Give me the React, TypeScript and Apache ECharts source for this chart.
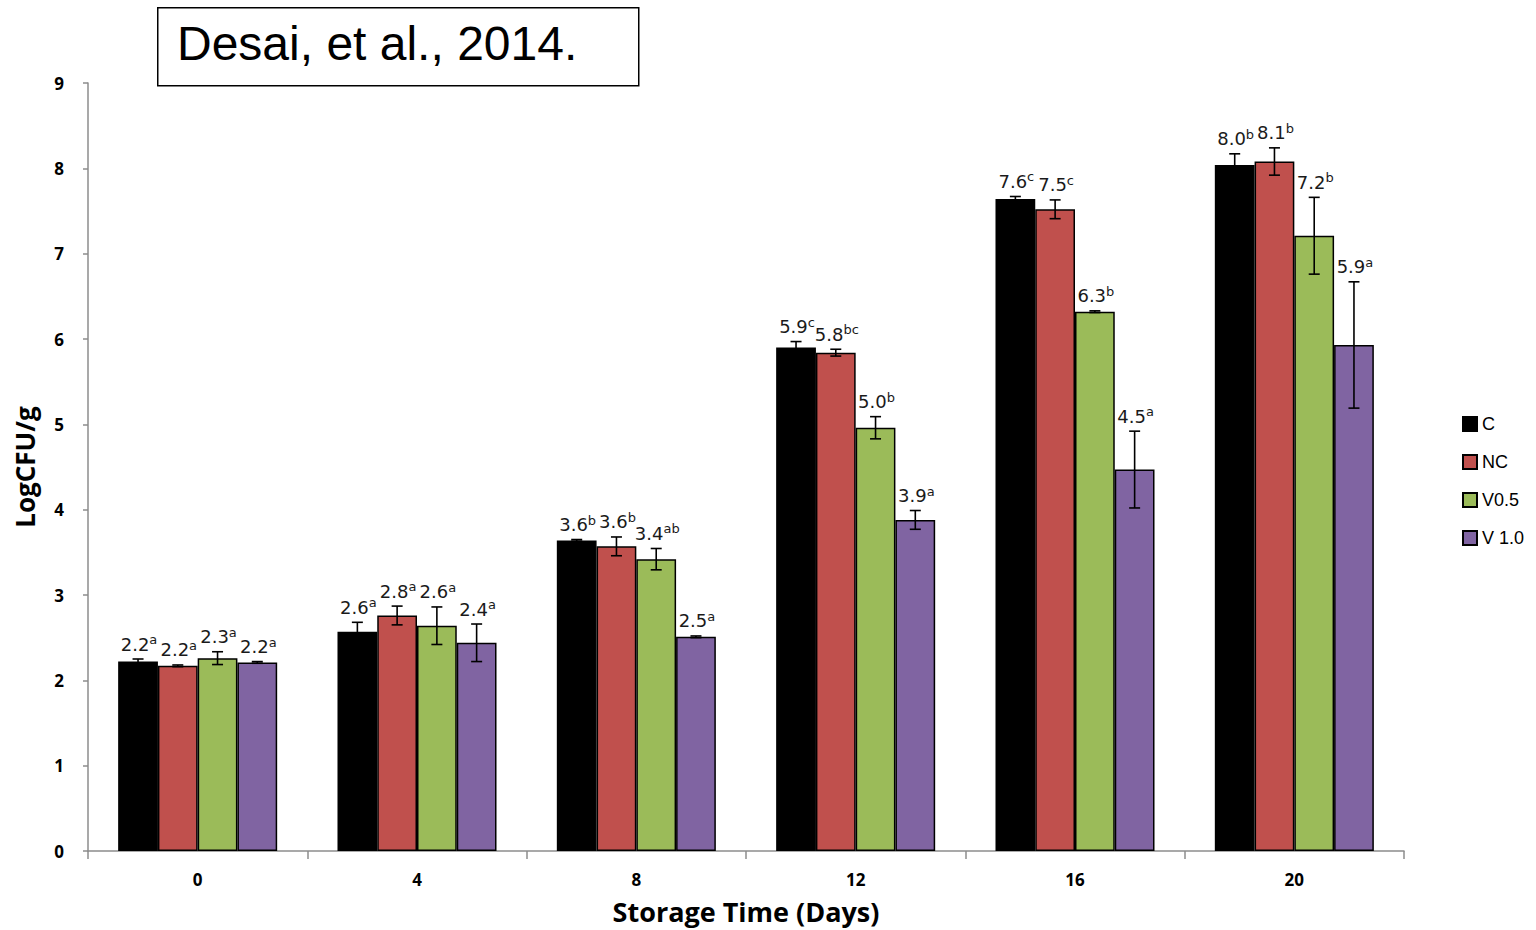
import React, { useEffect, useRef } from "react";
import * as echarts from "echarts";

// Storage days on the x axis
const days = ["0", "4", "8", "12", "16", "20"];
const seriesNames = ["C", "NC", "V0.5", "V 1.0"];
const seriesColors = ["#000000", "#C0504D", "#9BBB59", "#8064A2"];

// Mean LogCFU/g per treatment
const cValues = [2.22, 2.57, 3.64, 5.9, 7.64, 8.04];
const ncValues = [2.17, 2.76, 3.57, 5.84, 7.52, 8.08];
const v05Values = [2.26, 2.64, 3.42, 4.96, 6.32, 7.21];
const v10Values = [2.21, 2.44, 2.51, 3.88, 4.47, 5.93];

// Standard deviations (error bars)
const cErr = [0.03, 0.11, 0.01, 0.07, 0.03, 0.13];
const ncErr = [0.01, 0.11, 0.11, 0.04, 0.11, 0.16];
const v05Err = [0.075, 0.22, 0.125, 0.13, 0.01, 0.45];
const v10Err = [0.01, 0.22, 0.01, 0.11, 0.45, 0.74];

// Significance letters
const cSig = ["a", "a", "b", "c", "c", "b"];
const ncSig = ["a", "a", "b", "bc", "c", "b"];
const v05Sig = ["a", "a", "ab", "b", "b", "b"];
const v10Sig = ["a", "a", "a", "a", "a", "a"];

const yTicks = [0, 1, 2, 3, 4, 5, 6, 7, 8, 9];

const allValues = [cValues, ncValues, v05Values, v10Values];
const allErr = [cErr, ncErr, v05Err, v10Err];
const allSig = [cSig, ncSig, v05Sig, v10Sig];

const CATEGORY_GAP = 0.275;

export default function App() {
  const ref = useRef<HTMLDivElement>(null);

  useEffect(() => {
    if (!ref.current) return;
    const chart = echarts.init(ref.current, null, { renderer: "svg" });

    const barSeries = seriesNames.map((name, k) => ({
      name,
      type: "bar",
      data: allValues[k],
      barGap: "0%",
      barCategoryGap: `${CATEGORY_GAP * 100}%`,
      itemStyle: {
        color: seriesColors[k],
        borderColor: "#000000",
        borderWidth: 1.5,
      },
      z: 2,
    }));

    const errSeries = seriesNames.map((name, k) => ({
      name: name + "-err",
      type: "custom",
      z: 5,
      data: allValues[k].map((v, i) => [i, v, allErr[k][i]]),
      encode: { x: 0, y: 1 },
      renderItem: (params: any, api: any) => {
        const idx = api.value(0);
        const val = api.value(1);
        const err = api.value(2);
        const bandW = api.size([1, 0])[0];
        const barW = (bandW * (1 - CATEGORY_GAP)) / 4;
        const cx = api.coord([idx, 0])[0] + (k - 1.5) * barW;
        const yTop = api.coord([idx, val + err])[1];
        const yBot = api.coord([idx, val - err])[1];
        const cap = 5.5;
        const lineStyle = { stroke: "#000000", lineWidth: 1.6 };
        const sig = allSig[k][params.dataIndex];
        return {
          type: "group",
          children: [
            { type: "line", shape: { x1: cx, y1: yTop, x2: cx, y2: yBot }, style: lineStyle },
            { type: "line", shape: { x1: cx - cap, y1: yTop, x2: cx + cap, y2: yTop }, style: lineStyle },
            { type: "line", shape: { x1: cx - cap, y1: yBot, x2: cx + cap, y2: yBot }, style: lineStyle },
            {
              type: "text",
              x: cx + 1,
              y: yTop - 4,
              style: {
                text: `{v|${val.toFixed(1)}}{s|${sig}}`,
                align: "center",
                verticalAlign: "bottom",
                rich: {
                  v: {
                    fontFamily: "DejaVu Sans",
                    fontSize: 18,
                    fill: "#1a1a1a",
                    lineHeight: 22,
                  },
                  s: {
                    fontFamily: "DejaVu Sans",
                    fontSize: 13,
                    fill: "#1a1a1a",
                    lineHeight: 22,
                    verticalAlign: "top",
                  },
                },
              },
            },
          ],
        };
      },
    }));

    chart.setOption({
      animation: false,
      backgroundColor: "#ffffff",
      grid: {
        left: 88,
        right: 132,
        top: 83,
        bottom: 79,
        containLabel: false,
        outerBoundsMode: "none",
      },
      legend: {
        data: seriesNames,
        orient: "vertical",
        left: 1457,
        top: 410,
        itemWidth: 14,
        itemHeight: 14,
        itemGap: 20,
        icon: "rect",
        textStyle: { fontFamily: "Liberation Sans", fontSize: 18, color: "#000000" },
      },
      xAxis: {
        type: "category",
        data: days,
        name: "Storage Time (Days)",
        nameLocation: "middle",
        nameGap: 47,
        nameTextStyle: { fontFamily: "Open Sans", fontWeight: "bold", fontSize: 27, color: "#000000" },
        axisLine: { lineStyle: { color: "#8c8c8c", width: 1.5 } },
        axisTick: { show: true, length: 8, lineStyle: { color: "#8c8c8c", width: 1.5 } },
        axisLabel: { fontFamily: "Open Sans", fontWeight: "bold", fontSize: 17, color: "#000000", margin: 20 },
      },
      yAxis: {
        type: "value",
        min: 0,
        max: 9,
        interval: 1,
        name: "LogCFU/g",
        nameLocation: "middle",
        nameGap: 50,
        nameRotate: 90,
        nameTextStyle: { fontFamily: "Open Sans", fontWeight: "bold", fontSize: 26, color: "#000000" },
        splitLine: { show: false },
        axisLine: { show: true, lineStyle: { color: "#8c8c8c", width: 1.5 } },
        axisTick: { show: true, length: 5, lineStyle: { color: "#8c8c8c", width: 1.5 } },
        axisLabel: {
          fontFamily: "Open Sans",
          fontWeight: "bold",
          fontSize: 17,
          color: "#000000",
          margin: 24,
          formatter: (v: number) => (yTicks.includes(v) ? String(v) : ""),
        },
      },
      graphic: [
        {
          type: "rect",
          left: 157,
          top: 7,
          shape: { width: 481, height: 78 },
          style: { fill: "#ffffff", stroke: "#000000", lineWidth: 1.5 },
          z: 10,
        },
        {
          type: "text",
          left: 177,
          top: 19,
          style: {
            text: "Desai, et al., 2014.",
            font: "48px 'Liberation Sans'",
            fill: "#000000",
          },
          z: 11,
        },
      ],
      series: [...barSeries, ...errSeries],
    });

    return () => chart.dispose();
  }, []);

  return (
    <div
      ref={ref}
      style={{ position: "fixed", left: 0, top: 0, width: 1536, height: 930 }}
    />
  );
}
